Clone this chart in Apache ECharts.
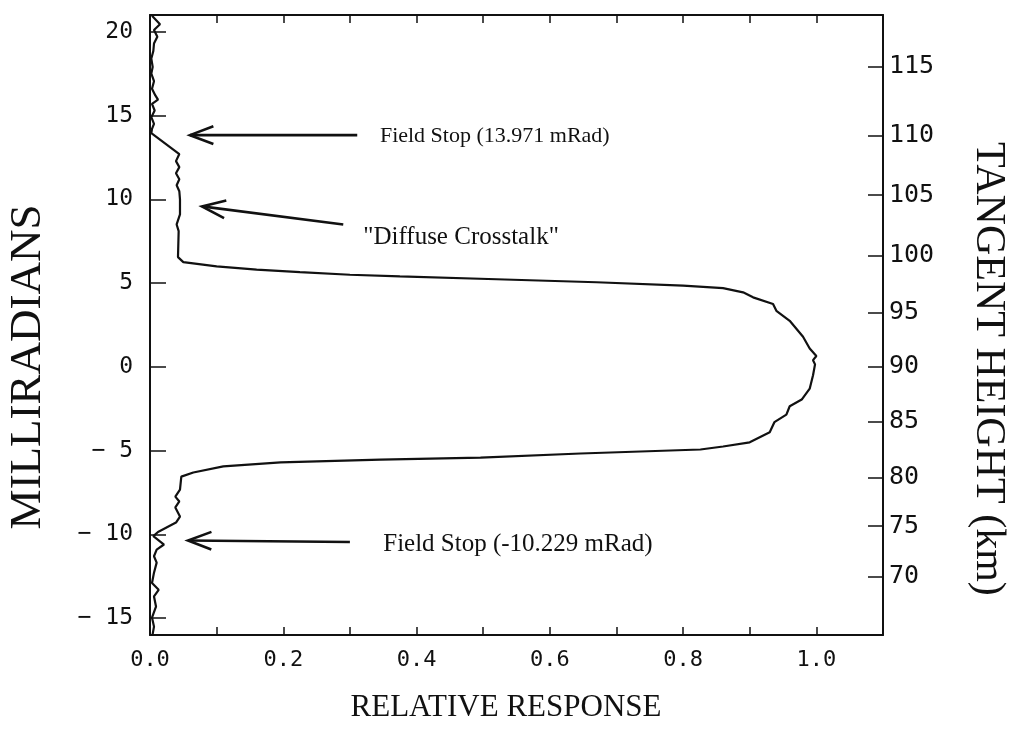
<!DOCTYPE html>
<html>
<head>
<meta charset="utf-8">
<script src="https://cdn.jsdelivr.net/npm/echarts@6/dist/echarts.min.js"></script>
<style>
  html, body { margin: 0; padding: 0; background: #fff; }
  #chart { width: 1015px; height: 735px; }
</style>
</head>
<body>
<div id="chart"></div>
<script>
// Angular response profile, top (field stop) to bottom (field stop)
const angleMrad = [
  20.95, 20.45, 20.1, 19.7, 19.3, 18.85, 18.4, 17.9, 17.5, 17.05, 16.6, 16.2, 15.95, 15.7, 15.3, 14.9, 14.5, 14.2, 13.95,
  12.7, 12.28, 11.92, 11.56, 11.2, 10.84, 10.48, 10.0, 9.1, 8.5, 8.1, 6.55,
  6.25, 6.0, 5.8, 5.65, 5.5, 5.4, 5.23, 5.05, 4.85, 4.7, 4.45, 4.15,
  3.75, 3.35, 2.75, 1.8, 1.1, 0.65, 0.4, 0.15, -0.5, -1.3, -1.95, -2.35, -2.85, -3.3, -3.9, -4.5,
  -4.75, -4.93, -5.17, -5.41, -5.53, -5.7, -5.94, -6.3, -6.55,
  -7.32, -7.74, -8.03, -8.39, -8.93, -9.29,
  -9.85, -10.1, -10.35, -10.6, -10.9, -11.3, -11.68, -12.28, -12.9, -13.3, -13.7, -14.3, -14.96, -15.5, -15.95
];
const relResponse = [
  0.003, 0.015, 0.006, 0.011, 0.006, 0.005, 0.002, 0.004, 0.002, 0.006, 0.003, 0.008, 0.012, 0.003, 0.007, 0.002, 0.006, 0.003, 0.002,
  0.044, 0.039, 0.044, 0.039, 0.044, 0.040, 0.044, 0.045, 0.045, 0.040, 0.043, 0.042,
  0.05, 0.10, 0.16, 0.225, 0.30, 0.375, 0.52, 0.67, 0.80, 0.86, 0.89, 0.905,
  0.935, 0.94, 0.96, 0.98, 0.99, 1.0, 0.995, 0.998, 0.995, 0.99, 0.978, 0.96, 0.955, 0.937, 0.93, 0.90,
  0.86, 0.826, 0.646, 0.496, 0.346, 0.196, 0.11, 0.065, 0.047,
  0.045, 0.038, 0.044, 0.038, 0.045, 0.039,
  0.012, 0.005, 0.013, 0.021, 0.010, 0.006, 0.010, 0.006, 0.003, 0.013, 0.006, 0.009, 0.003, 0.006, 0.004
];

// Axis tick labels
const responseTicks = [0.0, 0.2, 0.4, 0.6, 0.8, 1.0];
const mradTicks = [-15, -10, -5, 0, 5, 10, 15, 20];
const heightKm = [70, 75, 80, 85, 90, 95, 100, 105, 110, 115];
const heightAtMrad = [-12.5, -9.5, -6.6, -3.25, 0, 3.25, 6.65, 10.25, 13.8, 17.9];

// Annotations (data coordinates: response, mrad)
const notes = [
  { text: 'Field Stop (13.971 mRad)', size: 22, at: [0.345, 13.75], tip: [0.06, 13.83], tail: [0.311, 13.83] },
  { text: '"Diffuse Crosstalk"', size: 25, at: [0.32, 7.75], tip: [0.078, 9.58], tail: [0.29, 8.5] },
  { text: 'Field Stop (-10.229 mRad)', size: 25, at: [0.35, -10.6], tip: [0.057, -10.36], tail: [0.30, -10.45] }
];

const tickFont = 'DejaVu Sans Mono';
const serif = 'Liberation Serif';
const ink = '#111';

// minus sign set apart from the digits, as on the left scale
const fmtMinus = v => (v < 0 ? '\u2212 ' + Math.abs(v) : String(v));

const chart = echarts.init(document.getElementById('chart'), null, { renderer: 'canvas' });

const frameLine = { show: true, onZero: false, lineStyle: { color: ink, width: 2 } };
const tickStyle = { color: ink, width: 1.5 };

const option = {
  backgroundColor: '#fff',
  animation: false,
  grid: { left: 150, top: 15, width: 733, height: 620 },
  xAxis: [
    {
      type: 'value', position: 'bottom', min: 0, max: 1.1, interval: 0.1,
      axisLine: frameLine,
      axisTick: { show: true, inside: true, length: 8, lineStyle: tickStyle },
      axisLabel: {
        customValues: responseTicks, margin: 14,
        fontFamily: tickFont, fontSize: 22, color: ink,
        formatter: v => v.toFixed(1)
      },
      splitLine: { show: false }
    },
    {
      type: 'value', position: 'top', min: 0, max: 1.1, interval: 0.1,
      axisLine: frameLine,
      axisTick: { show: true, inside: true, length: 8, lineStyle: tickStyle },
      axisLabel: { show: false },
      splitLine: { show: false }
    }
  ],
  yAxis: [
    {
      type: 'value', position: 'left', min: -16, max: 21, interval: 1,
      axisLine: frameLine,
      axisTick: { show: true, inside: true, length: 16, customValues: mradTicks, lineStyle: tickStyle },
      axisLabel: {
        customValues: mradTicks, margin: 17,
        fontFamily: tickFont, fontSize: 23, color: ink,
        formatter: fmtMinus
      },
      splitLine: { show: false }
    },
    {
      type: 'value', position: 'right', min: -16, max: 21, interval: 1,
      axisLine: frameLine,
      axisTick: { show: true, inside: true, length: 15, customValues: heightAtMrad, lineStyle: tickStyle },
      axisLabel: {
        customValues: heightAtMrad, margin: 6,
        fontFamily: tickFont, fontSize: 25, color: ink,
        formatter: v => {
          let best = 0;
          heightAtMrad.forEach((m, i) => { if (Math.abs(m - v) < Math.abs(heightAtMrad[best] - v)) best = i; });
          return String(heightKm[best]);
        }
      },
      splitLine: { show: false }
    }
  ],
  series: [
    {
      type: 'line', xAxisIndex: 0, yAxisIndex: 0,
      data: angleMrad.map((a, i) => [relResponse[i], a]),
      showSymbol: false, smooth: false,
      lineStyle: { color: ink, width: 2.2 },
      silent: true
    }
  ]
};

chart.setOption(option);

// Arrows and their captions, placed through the grid's coordinate system
function px(p) { return chart.convertToPixel({ gridIndex: 0 }, p); }

function arrowElements(tipD, tailD) {
  const tip = px(tipD), tail = px(tailD);
  const dx = tail[0] - tip[0], dy = tail[1] - tip[1];
  const len = Math.hypot(dx, dy);
  const ux = dx / len, uy = dy / len;
  const head = 25, spread = 0.36;
  const wing = a => [
    tip[0] + head * (ux * Math.cos(a) - uy * Math.sin(a)),
    tip[1] + head * (ux * Math.sin(a) + uy * Math.cos(a))
  ];
  const style = { stroke: ink, lineWidth: 2.6, fill: null };
  return [
    { type: 'line', shape: { x1: tip[0], y1: tip[1], x2: tail[0], y2: tail[1] }, style },
    { type: 'polyline', shape: { points: [wing(spread), tip, wing(-spread)] }, style }
  ];
}

const graphics = [];
notes.forEach(n => {
  graphics.push(...arrowElements(n.tip, n.tail));
  const p = px(n.at);
  graphics.push({
    type: 'text', x: p[0], y: p[1],
    style: { text: n.text, fill: ink, font: n.size + 'px "' + serif + '"', verticalAlign: 'middle', align: 'left' }
  });
});

// Axis titles
const zeroY = px([0, 0])[1];
graphics.push(
  {
    type: 'text', x: 28, y: zeroY, rotation: Math.PI / 2,
    style: { text: 'MILLIRADIANS', fill: ink, font: '45px "' + serif + '"', align: 'center', verticalAlign: 'middle' }
  },
  {
    type: 'text', x: 988, y: zeroY + 2, rotation: -Math.PI / 2,
    style: { text: 'TANGENT HEIGHT (km)', fill: ink, font: '42px "' + serif + '"', align: 'center', verticalAlign: 'middle' }
  },
  {
    type: 'text', x: 506, y: 708,
    style: { text: 'RELATIVE RESPONSE', fill: ink, font: '31px "' + serif + '"', align: 'center', verticalAlign: 'middle' }
  }
);
chart.setOption({ graphic: graphics });
</script>
</body>
</html>
